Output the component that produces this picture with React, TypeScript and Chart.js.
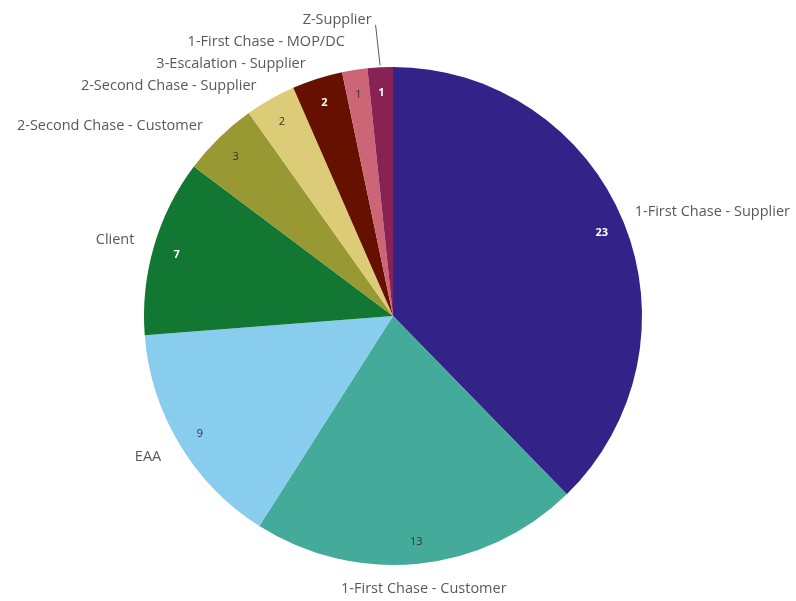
import React, { useEffect, useRef } from "react";
import { Chart, registerables } from "chart.js";

Chart.register(...registerables);

const categories = [
  "1-First Chase - Supplier",
  "1-First Chase - Customer",
  "EAA",
  "Client",
  "2-Second Chase - Customer",
  "2-Second Chase - Supplier",
  "3-Escalation - Supplier",
  "1-First Chase - MOP/DC",
  "Z-Supplier",
];
const values = [23, 13, 9, 7, 3, 2, 2, 1, 1];
const colors = ["#332288", "#44AA99", "#88CCEE", "#117733", "#999933", "#DDCC77", "#661100", "#CC6677", "#882255"];
const valueTextColors = ["#ffffff", "#333333", "#333333", "#ffffff", "#333333", "#333333", "#ffffff", "#333333", "#ffffff"];

const FONT = "'Open Sans', sans-serif";

const labelPlugin = {
  id: "pieLabels",
  afterDatasetsDraw(chart: any) {
    const ctx = chart.ctx;
    const meta = chart.getDatasetMeta(0);
    const leftLabels: any[] = [];
    const rightLabels: any[] = [];
    ctx.save();
    meta.data.forEach((arc: any, i: number) => {
      const { x, y, startAngle, endAngle, outerRadius } = arc.getProps(["x", "y", "startAngle", "endAngle", "outerRadius"], true);
      const mid = (startAngle + endAngle) / 2;
      const vr = outerRadius * 0.905;
      const vx = x + Math.cos(mid) * vr;
      const vy = y + Math.sin(mid) * vr;
      const white = valueTextColors[i] === "#ffffff";
      ctx.font = `${white ? "bold " : ""}11px ${FONT}`;
      ctx.fillStyle = valueTextColors[i];
      ctx.textAlign = "center";
      ctx.textBaseline = "middle";
      ctx.fillText(String(values[i]), vx, vy + 2);
      const R = outerRadius + 12;
      const px = x + Math.cos(mid) * R;
      const py = y + Math.sin(mid) * R;
      const item: any = {
        i, mid, px, py,
        ax: x + Math.cos(mid) * (outerRadius + 2),
        ay: y + Math.sin(mid) * (outerRadius + 2),
      };
      item.iy = Math.sin(mid) > 0 ? py + 7 : py - 3;
      if (Math.sin(mid) > 0.9) {
        item.bottom = true;
        rightLabels.push(item);
      } else if (Math.cos(mid) >= 0) rightLabels.push(item);
      else leftLabels.push(item);
    });
    leftLabels.sort((a, b) => b.py - a.py);
    let prev = Infinity;
    leftLabels.forEach((l) => {
      l.ly = Math.min(l.iy, prev - 22);
      prev = l.ly;
    });
    ctx.font = `14.5px ${FONT}`;
    ctx.fillStyle = "#595959";
    ctx.textBaseline = "middle";
    leftLabels.forEach((l) => {
      ctx.textAlign = "right";
      const tx = l.px - 8;
      ctx.fillText(categories[l.i], tx, l.ly);
      if (l.iy - l.ly > 25) {
        ctx.strokeStyle = "#595959";
        ctx.lineWidth = 1;
        ctx.beginPath();
        ctx.moveTo(tx + 4, l.ly + 5);
        ctx.lineTo(l.ax, l.ay);
        ctx.stroke();
      }
    });
    rightLabels.forEach((l) => {
      if (l.bottom) {
        ctx.textAlign = "center";
        ctx.fillText(categories[l.i], l.px + 4, l.py + 13);
      } else {
        ctx.textAlign = "left";
        ctx.fillText(categories[l.i], l.px, l.py - 6);
      }
    });
    ctx.restore();
  },
};

export default function App() {
  const ref = useRef<HTMLCanvasElement>(null);
  useEffect(() => {
    if (!ref.current) return;
    const chart = new Chart(ref.current, {
      type: "pie",
      data: {
        labels: categories,
        datasets: [{ data: values, backgroundColor: colors, borderWidth: 0 }],
      },
      options: {
        animation: false,
        responsive: false,
        maintainAspectRatio: false,
        layout: { padding: { top: 67, bottom: 36, left: 0, right: 10 } },
        plugins: {
          legend: { display: false },
          tooltip: { enabled: false },
        },
      },
      plugins: [labelPlugin],
    });
    return () => chart.destroy();
  }, []);
  return (
    <div style={{ position: "fixed", left: 0, top: 0, width: 796, height: 601, background: "#fff" }}>
      <canvas ref={ref} width={796} height={601} style={{ width: 796, height: 601 }} />
    </div>
  );
}
